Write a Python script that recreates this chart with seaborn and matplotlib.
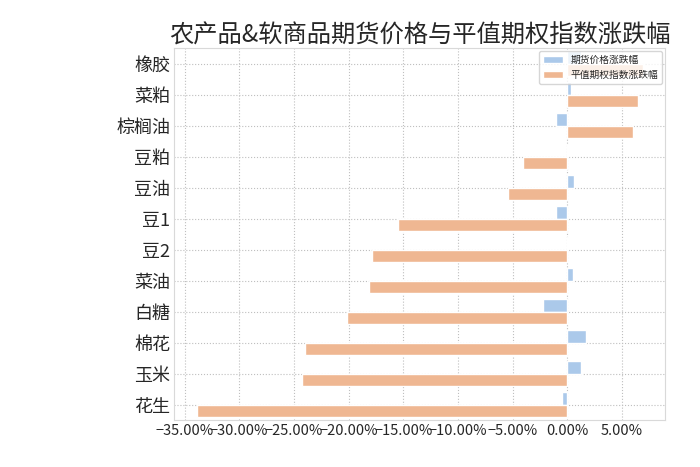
import pandas as pd
import matplotlib.pyplot as plt
import seaborn as sns
from matplotlib.ticker import PercentFormatter

# 品种, 从上到下
pinzhong = ['橡胶', '菜粕', '棕榈油', '豆粕', '豆油', '豆1', '豆2', '菜油', '白糖', '棉花', '玉米', '花生']
# 期货价格涨跌幅 (%)
qihuo = [1.3, 0.35, -1.05, 0.05, 0.6, -1.0, 0.05, 0.5, -2.2, 1.7, 1.3, -0.45]
# 平值期权指数涨跌幅 (%)
qiquan = [6.9, 6.5, 6.0, -4.05, -5.45, -15.5, -17.9, -18.1, -20.1, -24.0, -24.3, -33.9]

series_names = ['期货价格涨跌幅', '平值期权指数涨跌幅']

df = pd.concat([
    pd.DataFrame({'品种': pinzhong, '涨跌幅': qihuo, '类型': series_names[0]}),
    pd.DataFrame({'品种': pinzhong, '涨跌幅': qiquan, '类型': series_names[1]}),
])

sns.set_style('whitegrid', {'grid.linestyle': ':', 'grid.color': '.75', 'axes.edgecolor': '.85'})
plt.rcParams['font.family'] = ['Noto Sans CJK SC', 'DejaVu Sans']
plt.rcParams['axes.unicode_minus'] = True

fig, ax = plt.subplots(figsize=(7, 4.67), dpi=100)
fig.subplots_adjust(left=0.249, right=0.95, top=0.897, bottom=0.1)

sns.barplot(data=df, y='品种', x='涨跌幅', hue='类型', hue_order=series_names,
            order=pinzhong, palette='pastel', orient='h', ax=ax)

ax.set_axisbelow(True)
ax.grid(True, axis='both')
ax.xaxis.set_major_formatter(PercentFormatter(decimals=2))
ax.set_xlabel('')
ax.set_ylabel('')
ax.tick_params(axis='y', labelsize=13, length=0, pad=3)
ax.tick_params(axis='x', labelsize=10.5, length=0, pad=3)
ax.set_title('农产品&软商品期货价格与平值期权指数涨跌幅', fontsize=17.5, pad=4)
ax.legend(title=None, loc='upper right', fontsize=7, borderaxespad=0.3)

plt.savefig('out.png')
